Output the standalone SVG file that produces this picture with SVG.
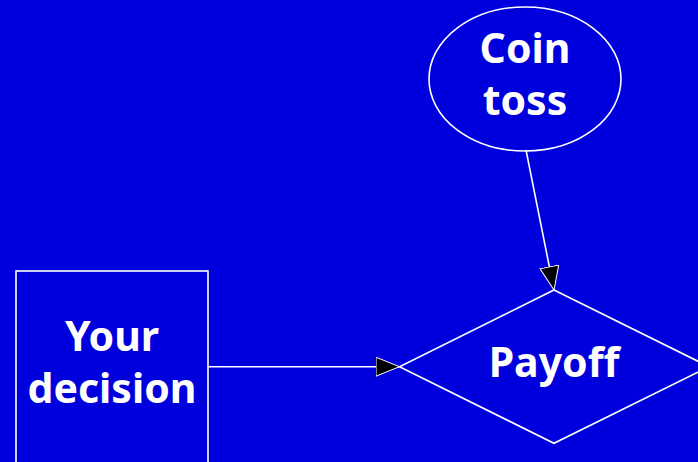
<svg xmlns="http://www.w3.org/2000/svg" width="698" height="462" viewBox="0 0 698 462">
  <style>
    .shape { fill: none; stroke: #ffffff; stroke-width: 1.6; }
    .edge { fill: none; stroke: #ffffff; stroke-width: 1.6; }
    .label { fill: #ffffff; font-family: "Noto Sans", "Open Sans", "DejaVu Sans", sans-serif; font-weight: bold; font-size: 41px; text-anchor: middle; }
  </style>
  <defs>
    <marker id="arrowhead" viewBox="0 0 24 20" refX="24" refY="10" markerWidth="24" markerHeight="20" markerUnits="userSpaceOnUse" orient="auto">
      <path d="M0.5,0.5 L24,10 L0.5,19.5 Z" fill="#000000" stroke="#ffffff" stroke-width="1"/>
    </marker>
  </defs>
  <rect width="698" height="462" fill="#0000dc"/>

  <g id="connectors">
    <line class="edge" x1="526" y1="150" x2="554" y2="290" marker-end="url(#arrowhead)"/>
    <line class="edge" x1="208" y1="366.7" x2="399.5" y2="366.7" marker-end="url(#arrowhead)"/>
  </g>

  <g id="coin-toss">
    <ellipse class="shape" cx="525" cy="79" rx="96" ry="72"/>
    <text class="label" x="525" y="63">Coin</text>
    <text class="label" x="525" y="115">toss</text>
  </g>

  <g id="your-decision">
    <rect class="shape" x="16" y="271" width="192" height="192"/>
    <text class="label" x="112" y="351">Your</text>
    <text class="label" x="112" y="403">decision</text>
  </g>

  <g id="payoff">
    <polygon class="shape" points="554,290 709,366.7 554,443.3 399.5,366.7"/>
    <text class="label" x="554" y="377">Payoff</text>
  </g>
</svg>
